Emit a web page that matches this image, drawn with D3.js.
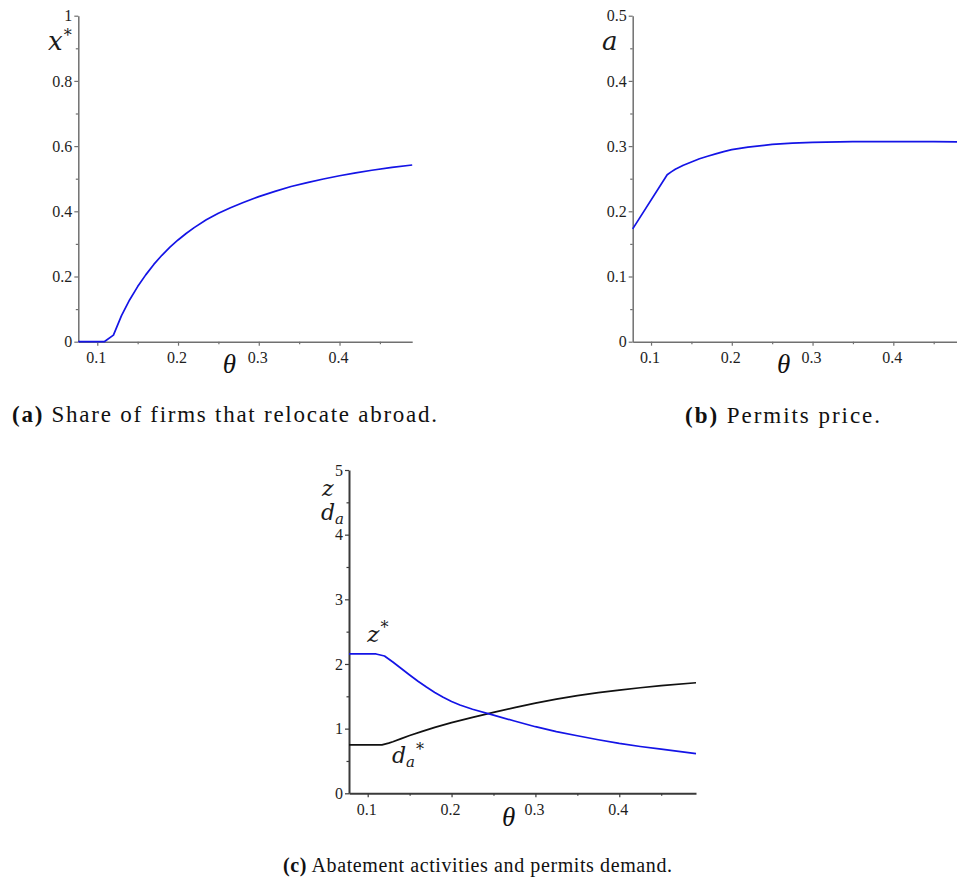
<!DOCTYPE html>
<html>
<head>
<meta charset="utf-8">
<script src="https://cdn.jsdelivr.net/npm/d3@7"></script>
<style>
  html, body { margin: 0; padding: 0; background: #fff; }
  svg { display: block; }
</style>
</head>
<body>
<svg id="chart" width="957" height="881"></svg>
<script>
// ---------- data ----------
const thetaA = [0.0765, 0.1086, 0.12, 0.13, 0.14, 0.15, 0.16, 0.17, 0.18, 0.19, 0.2, 0.21, 0.22, 0.235, 0.25, 0.265, 0.28, 0.3, 0.32, 0.34, 0.36, 0.38, 0.4, 0.42, 0.44, 0.465, 0.49];
const xStar  = [0, 0, 0.02, 0.08, 0.128, 0.169, 0.205, 0.237, 0.265, 0.29, 0.312, 0.332, 0.35, 0.374, 0.394, 0.411, 0.426, 0.445, 0.461, 0.476, 0.488, 0.499, 0.509, 0.518, 0.526, 0.535, 0.542];

const thetaB = [0.0773, 0.12, 0.125, 0.13, 0.14, 0.15, 0.16, 0.17, 0.18, 0.19, 0.2, 0.22, 0.25, 0.275, 0.3, 0.35, 0.4, 0.45, 0.49];
const permitPrice = [0.173, 0.256, 0.2605, 0.2645, 0.2705, 0.2755, 0.2805, 0.2845, 0.288, 0.2915, 0.2945, 0.2985, 0.3025, 0.3045, 0.3058, 0.3068, 0.307, 0.3068, 0.3065];

const thetaZ = [0.0777, 0.110, 0.12, 0.13, 0.14, 0.15, 0.16, 0.17, 0.18, 0.19, 0.2, 0.21, 0.225, 0.25, 0.275, 0.3, 0.325, 0.35, 0.375, 0.4, 0.425, 0.45, 0.4915];
const zStar  = [2.155, 2.155, 2.124, 2.03, 1.93, 1.83, 1.733, 1.643, 1.56, 1.485, 1.42, 1.365, 1.3, 1.208, 1.118, 1.03, 0.955, 0.89, 0.828, 0.772, 0.724, 0.682, 0.615];

const thetaD = [0.0777, 0.117, 0.125, 0.13, 0.14, 0.15, 0.165, 0.18, 0.2, 0.225, 0.25, 0.275, 0.3, 0.325, 0.35, 0.375, 0.4, 0.425, 0.45, 0.4915];
const daStar = [0.749, 0.749, 0.776, 0.798, 0.846, 0.893, 0.958, 1.02, 1.093, 1.175, 1.252, 1.325, 1.395, 1.456, 1.51, 1.556, 1.596, 1.632, 1.664, 1.71];

const xMajorTicks = [0.1, 0.2, 0.3, 0.4];
const xMinorTicks = [0.15, 0.25, 0.35, 0.45];
const yMajorA = [0, 0.2, 0.4, 0.6, 0.8, 1];
const yMinorA = [0.1, 0.3, 0.5, 0.7, 0.9];
const yMajorB = [0, 0.1, 0.2, 0.3, 0.4, 0.5];
const yMinorB = [0.05, 0.15, 0.25, 0.35, 0.45];
const yMajorC = [0, 1, 2, 3, 4, 5];
const yMinorC = [0.5, 1.5, 2.5, 3.5, 4.5];

const captionA = ["(a)", " Share of firms that relocate abroad."];
const captionB = ["(b)", " Permits price."];
const captionC = ["(c)", " Abatement activities and permits demand."];

// ---------- drawing ----------
const svg = d3.select("#chart");
const BLUE = "#1414e6";
const SERIF = "Liberation Serif, Times New Roman, serif";
const MATH = "DejaVu Serif, serif";
const fmt = d => String(+d.toFixed(2));

function panel(cfg) {
  const x = d3.scaleLinear().domain(cfg.xDom).range([cfg.left, cfg.right]);
  const y = d3.scaleLinear().domain(cfg.yDom).range([cfg.bottom, cfg.top]);
  const g = svg.append("g");

  // minor ticks
  g.append("g").attr("transform", `translate(0,${cfg.bottom})`)
    .call(d3.axisBottom(x).tickValues(xMinorTicks).tickSize(2.5).tickSizeOuter(0).tickFormat(""))
    .call(s => s.select(".domain").remove());
  g.append("g").attr("transform", `translate(${cfg.left},0)`)
    .call(d3.axisLeft(y).tickValues(cfg.yMinor).tickSize(2.5).tickSizeOuter(0).tickFormat(""))
    .call(s => s.select(".domain").remove());

  // major axes
  const ax = g.append("g").attr("transform", `translate(0,${cfg.bottom})`)
    .call(d3.axisBottom(x).tickValues(xMajorTicks).tickSize(4).tickSizeOuter(0).tickPadding(cfg.xPad).tickFormat(fmt));
  const ay = g.append("g").attr("transform", `translate(${cfg.left},0)`)
    .call(d3.axisLeft(y).tickValues(cfg.yMajor).tickSize(4).tickSizeOuter(0).tickPadding(2).tickFormat(fmt));
  ax.selectAll("text").attr("dx", -1.5);
  g.selectAll("g").attr("font-family", SERIF);
  g.selectAll(".tick text")
    .attr("font-family", SERIF).attr("font-size", 16).attr("fill", "#1e1e1e");

  g.selectAll(".domain").attr("stroke", cfg.axisColor).attr("stroke-width", cfg.axisWidth);
  g.selectAll(".tick line").attr("stroke", cfg.axisColor).attr("stroke-width", 1.2);

  // theta label
  g.append("text")
    .attr("x", x(cfg.thetaAt)).attr("y", cfg.bottom + cfg.thetaDy)
    .attr("font-family", SERIF).attr("font-style", "italic")
    .attr("font-size", 27).attr("fill", "#111").text("θ");

  return { x, y, g };
}

function line(p, xs, ys, color) {
  const data = xs.map((t, i) => [t, ys[i]]);
  p.g.append("path").datum(data)
    .attr("fill", "none").attr("stroke", color).attr("stroke-width", 1.7)
    .attr("stroke-linejoin", "round")
    .attr("d", d3.line().x(d => p.x(d[0])).y(d => p.y(d[1])).curve(d3.curveLinear));
}

// math label: base letter, optional subscript, optional superscript star
function mathLabel(x, y, base, size, opts = {}) {
  const t = svg.append("text").attr("x", x).attr("y", y)
    .attr("font-family", MATH).attr("font-style", "italic")
    .attr("font-size", size).attr("fill", "#1a1a1a");
  t.append("tspan").text(base);
  if (opts.sub) {
    t.append("tspan").attr("font-size", 15).attr("dy", 4).text(opts.sub);
  }
  if (opts.star) {
    t.append("tspan").attr("font-style", "normal").attr("font-size", 16)
      .attr("dx", 1).attr("dy", opts.sub ? -12 : -9).text("*");
  }
  return t;
}

// Panel (a)
const pA = panel({ left: 78.3, right: 412.2, top: 15.7, bottom: 341.7, xDom: [0.0765, 0.49], yDom: [0, 1],
  yMajor: yMajorA, yMinor: yMinorA, axisColor: "#707070", axisWidth: 1.5, xPad: 6, thetaAt: 0.2555, thetaDy: 31 });
line(pA, thetaA, xStar, BLUE);
mathLabel(48, 50, "x", 26, { star: true });

// Panel (b)
const pB = panel({ left: 632.7, right: 966, top: 15.7, bottom: 341.7, xDom: [0.0773, 0.49], yDom: [0, 0.5],
  yMajor: yMajorB, yMinor: yMinorB, axisColor: "#707070", axisWidth: 1.5, xPad: 6, thetaAt: 0.256, thetaDy: 31 });
line(pB, thetaB, permitPrice, BLUE);
mathLabel(602, 50, "a", 26);

// Panel (c)
const pC = panel({ left: 349, right: 696, top: 470, bottom: 793.3, xDom: [0.0777, 0.4915], yDom: [0, 5],
  yMajor: yMajorC, yMinor: yMinorC, axisColor: "#3a3a3a", axisWidth: 2, xPad: 6.5, thetaAt: 0.2601, thetaDy: 33 });
line(pC, thetaD, daStar, "#111");
line(pC, thetaZ, zStar, BLUE);
mathLabel(322, 496, "z", 22);
mathLabel(321, 520, "d", 22, { sub: "a" });
// curve labels
mathLabel(pC.x(0.0995), pC.y(2.34), "z", 23, { star: true });
mathLabel(pC.x(0.129), pC.y(0.469), "d", 22, { sub: "a", star: true });

// captions
function caption(parts, x0, x1, y, size) {
  const t = svg.append("text").attr("x", x0).attr("y", y)
    .attr("font-family", SERIF).attr("font-size", size).attr("fill", "#111");
  t.append("tspan").attr("font-weight", "bold").text(parts[0]);
  t.append("tspan").text(parts[1]);
  t.attr("textLength", x1 - x0).attr("lengthAdjust", "spacing");
}
caption(captionA, 12, 437, 422, 23);
caption(captionB, 685, 880, 423, 23);
caption(captionC, 283, 672, 872, 20);
</script>
</body>
</html>
